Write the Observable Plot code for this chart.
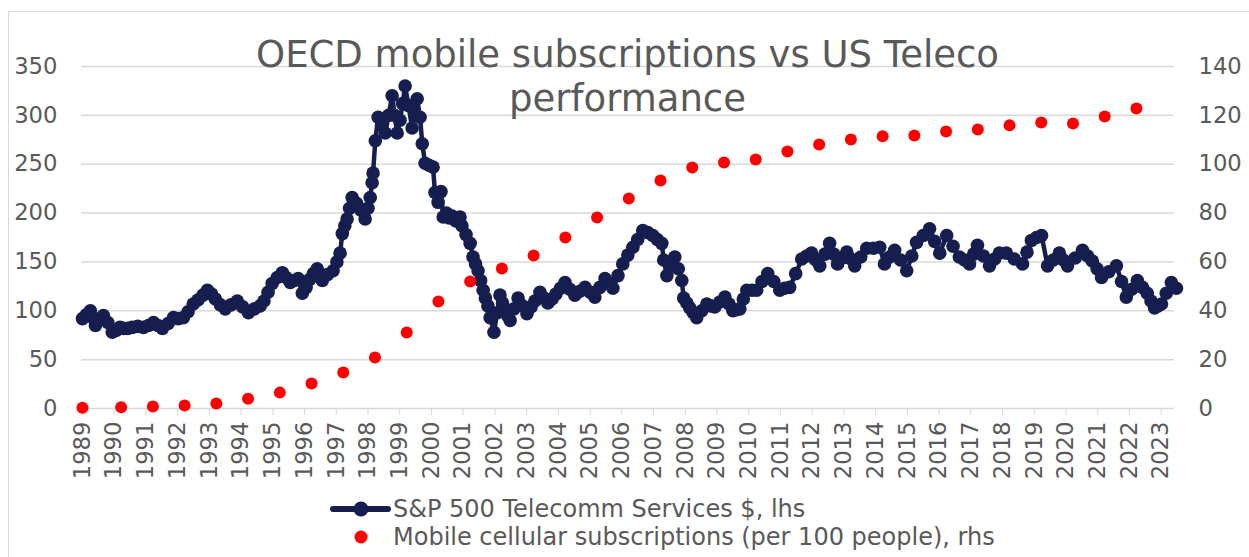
<!DOCTYPE html>
<html><head><meta charset="utf-8">
<script src="https://cdn.jsdelivr.net/npm/d3@7"></script>
<script src="https://cdn.jsdelivr.net/npm/@observablehq/plot@0.6"></script>
<style>
html,body{margin:0;padding:0;background:#fff;overflow:hidden;}
#wrap{position:relative;width:1249px;height:557px;font-family:"DejaVu Sans",Verdana,sans-serif;overflow:hidden;}
#frame{position:absolute;left:8px;top:11px;width:1270px;height:580px;border:1.5px solid #d9d9d9;box-sizing:border-box;}
#chart{position:absolute;left:0;top:0;}
#title{position:absolute;left:0;top:33px;width:1255px;text-align:center;font-size:37px;line-height:44px;color:#595959;}
#legend{position:absolute;left:0;top:470px;}
</style></head>
<body>
<div id="wrap"><div id="frame"></div><div id="chart"></div>
<div id="title">OECD mobile subscriptions vs US Teleco<br>performance</div>
<svg id="legend" width="1249" height="87"></svg>
</div>
<script>
// S&P 500 Telecomm Services $, lhs (date as decimal year)
const telecomDates = [1989.00,1989.12,1989.25,1989.33,1989.41,1989.52,1989.66,1989.80,1989.94,1990.06,1990.18,1990.29,1990.43,1990.57,1990.74,1990.92,1991.08,1991.24,1991.38,1991.52,1991.70,1991.87,1992.02,1992.18,1992.33,1992.49,1992.64,1992.80,1992.94,1993.07,1993.19,1993.35,1993.50,1993.68,1993.88,1994.05,1994.23,1994.42,1994.60,1994.72,1994.85,1994.98,1995.14,1995.30,1995.42,1995.55,1995.68,1995.80,1995.93,1996.05,1996.16,1996.28,1996.40,1996.56,1996.72,1996.90,1997.02,1997.12,1997.19,1997.27,1997.34,1997.42,1997.50,1997.64,1997.78,1997.91,1998.00,1998.07,1998.13,1998.16,1998.23,1998.32,1998.43,1998.54,1998.65,1998.76,1998.84,1998.92,1999.01,1999.09,1999.17,1999.28,1999.39,1999.47,1999.55,1999.64,1999.71,1999.80,1999.92,2000.05,2000.11,2000.21,2000.30,2000.37,2000.47,2000.56,2000.65,2000.77,2000.90,2000.96,2001.09,2001.22,2001.31,2001.39,2001.47,2001.55,2001.63,2001.70,2001.78,2001.85,2001.97,2002.07,2002.16,2002.24,2002.32,2002.40,2002.48,2002.60,2002.73,2002.87,2003.01,2003.14,2003.26,2003.42,2003.55,2003.67,2003.80,2003.92,2004.07,2004.21,2004.36,2004.52,2004.68,2004.84,2005.00,2005.15,2005.31,2005.47,2005.60,2005.72,2005.88,2006.03,2006.19,2006.35,2006.50,2006.66,2006.82,2006.98,2007.12,2007.26,2007.32,2007.42,2007.55,2007.67,2007.78,2007.89,2007.95,2008.05,2008.14,2008.25,2008.36,2008.52,2008.68,2008.80,2008.93,2009.09,2009.25,2009.38,2009.50,2009.61,2009.72,2009.83,2009.94,2010.10,2010.25,2010.42,2010.60,2010.79,2010.98,2011.13,2011.29,2011.48,2011.67,2011.83,2011.98,2012.11,2012.24,2012.40,2012.55,2012.68,2012.80,2012.95,2013.09,2013.22,2013.34,2013.53,2013.72,2013.93,2014.13,2014.28,2014.44,2014.60,2014.79,2014.98,2015.14,2015.29,2015.50,2015.70,2015.86,2016.02,2016.24,2016.44,2016.64,2016.80,2016.96,2017.09,2017.21,2017.40,2017.59,2017.75,2017.90,2018.12,2018.37,2018.63,2018.77,2018.91,2019.07,2019.23,2019.42,2019.60,2019.79,2019.92,2020.05,2020.29,2020.52,2020.68,2020.83,2020.98,2021.12,2021.35,2021.59,2021.75,2021.90,2022.07,2022.25,2022.41,2022.56,2022.68,2022.79,2022.90,2023.01,2023.16,2023.32,2023.48];
const telecomValues = [92,96,100,93,85,90,95,88,78,80,83,82,82,83,84,83,85,88,85,82,87,93,92,93,99,107,111,116,121,117,112,106,102,106,110,104,98,102,105,110,119,128,134,139,134,129,131,133,118,124,132,138,143,131,137,141,150,159,179,187,194,205,216,210,203,194,205,216,231,241,274,298,290,282,300,320,300,282,295,312,330,310,287,302,317,298,271,251,249,247,221,211,222,196,200,195,197,192,196,187,178,169,155,148,141,131,121,113,105,93,78,98,116,108,100,95,90,102,113,105,97,104,110,119,113,108,112,117,123,129,122,116,120,124,119,114,124,133,128,123,136,148,157,165,173,182,180,177,173,169,152,136,146,155,143,131,113,108,103,98,93,100,107,105,104,109,114,107,100,101,102,112,121,121,121,130,138,130,121,123,124,138,153,156,159,152,146,158,169,158,148,154,160,153,146,155,164,164,165,148,155,162,152,141,156,170,177,184,171,159,177,166,155,152,148,158,167,156,146,153,159,159,153,148,160,172,175,177,146,152,159,152,146,154,162,156,151,143,134,140,146,130,114,122,131,124,118,110,103,105,107,118,129,123];
// Mobile cellular subscriptions (per 100 people), rhs — plotted date as decimal year
const subDates = [1989.00,1990.22,1991.22,1992.22,1993.22,1994.22,1995.22,1996.22,1997.22,1998.22,1999.22,2000.22,2001.22,2002.22,2003.22,2004.22,2005.22,2006.22,2007.22,2008.22,2009.22,2010.22,2011.22,2012.22,2013.22,2014.22,2015.22,2016.22,2017.22,2018.22,2019.22,2020.22,2021.22,2022.22];
const subValues = [0.3,0.5,0.8,1.2,2.0,4.0,6.5,10.2,14.7,20.9,31.1,43.8,52.0,57.3,62.6,70.0,78.2,86.0,93.3,98.7,100.7,101.9,105.2,108.1,110.1,111.4,111.8,113.4,114.2,115.9,117.1,116.7,119.5,122.8];
// axes
const leftTicks = [0,50,100,150,200,250,300,350];
const rightTicks = [0,20,40,60,80,100,120,140];
const yearTicks = d3.range(1989, 2024);

const NAVY = "#161e50", RED = "#ff0000", GRID = "#d9d9d9", TXT = "#595959";
const k = 350 / 140; // rhs -> lhs
const line = telecomDates.map((d, i) => ({date: d, value: telecomValues[i]}));
const subs = subDates.map((d, i) => ({date: d, value: subValues[i]}));

const chart = Plot.plot({
  width: 1249, height: 470,
  marginLeft: 81, marginRight: 75, marginTop: 66, marginBottom: 62,
  x: {domain: [1988.97, 2023.42], axis: null},
  y: {domain: [0, 350], axis: null},
  style: {fontFamily: "DejaVu Sans, Verdana, sans-serif", fontSize: "22.7px", color: TXT, background: "transparent", overflow: "visible"},
  marks: [
    Plot.ruleY(leftTicks.slice(1), {stroke: GRID, strokeWidth: 1.5}),
    Plot.ruleY([0], {stroke: GRID, strokeWidth: 1.5}),
    Plot.axisX({ticks: yearTicks, tickFormat: d => String(d), tickRotate: -90, tickSize: 7, tickPadding: 6, stroke: GRID, fill: TXT, label: null}),
    Plot.axisY({anchor: "left", ticks: leftTicks, tickSize: 0, tickPadding: 24, fill: TXT, label: null}),
    Plot.axisY({anchor: "right", ticks: rightTicks.map(v => v * k), tickFormat: d => String(Math.round(d / k)), tickSize: 0, tickPadding: 24, fill: TXT, label: null}),
    Plot.line(line, {x: "date", y: "value", stroke: NAVY, strokeWidth: 4.5}),
    Plot.dot(line, {x: "date", y: "value", r: 6.8, fill: NAVY, stroke: "none"}),
    Plot.dot(subs, {x: "date", y: d => d.value * k, r: 6, fill: RED, stroke: "none"})
  ]
});
document.getElementById("chart").appendChild(chart);

// legend
const lg = d3.select("#legend");
lg.append("line").attr("x1", 333).attr("x2", 388).attr("y1", 39).attr("y2", 39).attr("stroke", NAVY).attr("stroke-width", 6).attr("stroke-linecap", "round");
lg.append("circle").attr("cx", 361).attr("cy", 39).attr("r", 7.5).attr("fill", NAVY);
lg.append("text").attr("x", 393).attr("y", 47).attr("font-size", 24).attr("fill", TXT).attr("font-family", "DejaVu Sans, Verdana, sans-serif").text("S&P 500 Telecomm Services $, lhs");
lg.append("circle").attr("cx", 361).attr("cy", 67).attr("r", 6.5).attr("fill", RED);
lg.append("text").attr("x", 393).attr("y", 75).attr("font-size", 24).attr("fill", TXT).attr("font-family", "DejaVu Sans, Verdana, sans-serif").text("Mobile cellular subscriptions (per 100 people), rhs");
</script>
</body></html>
